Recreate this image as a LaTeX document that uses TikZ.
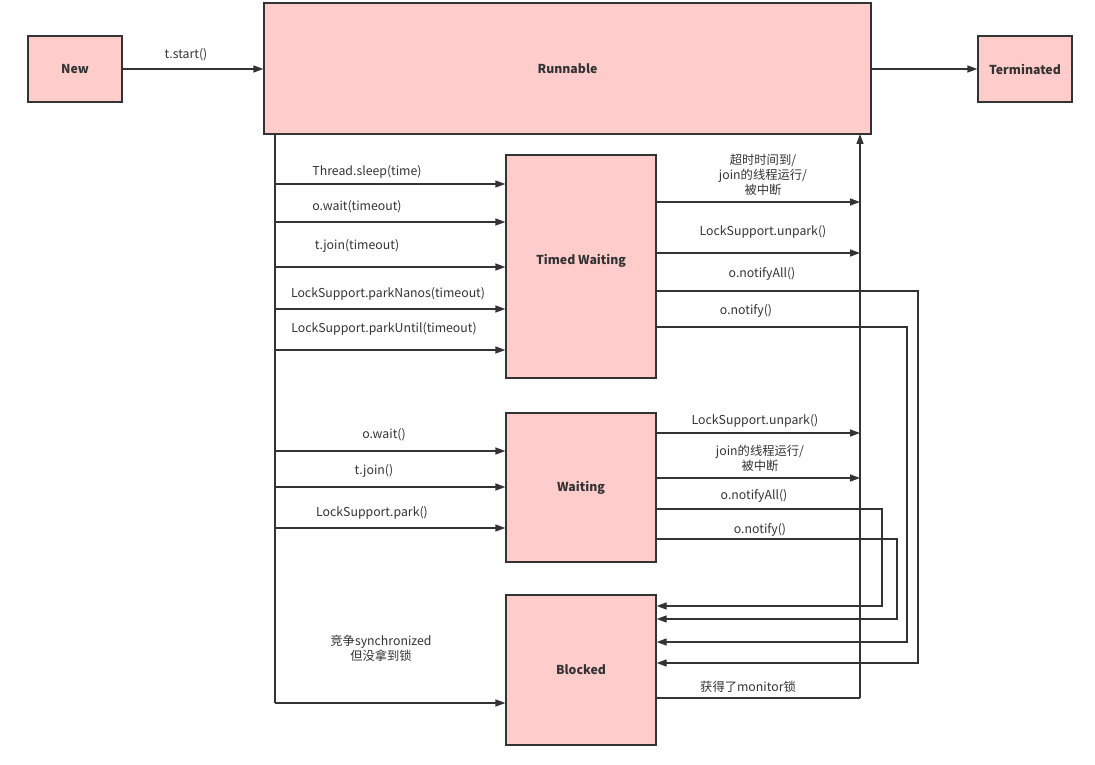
\documentclass[tikz,border=0pt]{standalone}
\usepackage{fontspec}
\setmainfont{Noto Sans CJK SC}
\usetikzlibrary{arrows.meta}
\definecolor{boxfill}{HTML}{FFCCCC}
\definecolor{ink}{HTML}{333333}
\tikzset{
  state/.style={draw=ink, fill=boxfill, line width=1.3pt, inner sep=0pt, font=\fontsize{12.3}{14}\selectfont\bfseries, text=ink},
  arr/.style={draw=ink, line width=1.3pt, -{Triangle[length=10pt,width=7pt]}},
  ln/.style={draw=ink, line width=1.3pt},
  lbl/.style={font=\fontsize{12.3}{15}\selectfont, text=ink, inner sep=0pt, align=center, yshift=-1.5pt},
}
\begin{document}
\begin{tikzpicture}[x=1pt,y=-1pt]
\useasboundingbox (0,0) rectangle (1095,765);
% states
\node[state, minimum width=94pt, minimum height=66pt] (new) at (75,69) {New};
\node[state, minimum width=607pt, minimum height=131pt] (run) at (567.5,68.5) {Runnable};
\node[state, minimum width=94pt, minimum height=66pt] (term) at (1025,69) {Terminated};
\node[state, minimum width=150pt, minimum height=223pt] (tw) at (581,266.5) {};
\node[font=\fontsize{12.3}{14}\selectfont\bfseries, text=ink, inner sep=0pt] (twlabel) at (581,260.5) {Timed Waiting};
\node[state, minimum width=150pt, minimum height=149pt] (w) at (581,487.5) {Waiting};
\node[state, minimum width=150pt, minimum height=150pt] (b) at (581,670) {Blocked};

% top row
\draw[arr] (new.east) -- (run.west |- new.east);
\node[lbl] at (186,53) {t.start()};
\draw[arr] (run.east |- term.west) -- (term.west);

% left trunk
\coordinate (trunk) at (275,134);
\coordinate (trunkend) at (275,703);
\draw[ln] (trunk) -- (trunkend);
\draw[arr] (trunk |- 0,184) -- (tw.west |- 0,184);
\draw[arr] (trunk |- 0,222) -- (tw.west |- 0,222);
\draw[arr] (trunk |- 0,267) -- (tw.west |- 0,267);
\draw[arr] (trunk |- 0,309) -- (tw.west |- 0,309);
\draw[arr] (trunk |- 0,350) -- (tw.west |- 0,350);
\node[lbl] at (367,170) {Thread.sleep(time)};
\node[lbl] at (357,205) {o.wait(timeout)};
\node[lbl] at (357,244) {t.join(timeout)};
\node[lbl] at (388,292) {LockSupport.parkNanos(timeout)};
\node[lbl] at (384,327) {LockSupport.parkUntil(timeout)};

\draw[arr] (trunk |- 0,451) -- (w.west |- 0,451);
\draw[arr] (trunk |- 0,487) -- (w.west |- 0,487);
\draw[arr] (trunk |- 0,528) -- (w.west |- 0,528);
\node[lbl] at (384,433) {o.wait()};
\node[lbl] at (374,469) {t.join()};
\node[lbl] at (372,511) {LockSupport.park()};

\draw[arr] (trunkend) -- (b.west |- trunkend);
\node[lbl] at (381,647) {竞争synchronized\\但没拿到锁};

% right trunk back to Runnable
\coordinate (rt) at (860,698);
\coordinate (rtop) at (860,134);
\draw[ln] (b.east |- rt) -- (rt);
\draw[arr] (rt) -- (rtop);
\node[lbl] at (748,685) {获得了monitor锁};

% timed waiting -> runnable trunk
\draw[arr] (tw.east |- 0,202) -- (rt |- 0,202);
\node[lbl] at (763,173) {超时时间到/\\join的线程运行/\\被中断};
\draw[arr] (tw.east |- 0,253) -- (rt |- 0,253);
\node[lbl] at (763,230) {LockSupport.unpark()};

% timed waiting -> blocked
\draw[arr] (tw.east |- 0,291) -- (918,291) -- (918,663) -- (b.east |- 0,663);
\node[lbl] at (762,272) {o.notifyAll()};
\draw[arr] (tw.east |- 0,327) -- (907,327) -- (907,642) -- (b.east |- 0,642);
\node[lbl] at (746,309) {o.notify()};

% waiting -> runnable trunk
\draw[arr] (w.east |- 0,433) -- (rt |- 0,433);
\node[lbl] at (755,419) {LockSupport.unpark()};
\draw[arr] (w.east |- 0,478) -- (rt |- 0,478);
\node[lbl] at (760,457) {join的线程运行/\\被中断};

% waiting -> blocked
\draw[arr] (w.east |- 0,509) -- (882,509) -- (882,606) -- (b.east |- 0,606);
\node[lbl] at (754,494) {o.notifyAll()};
\draw[arr] (w.east |- 0,539) -- (897,539) -- (897,619) -- (b.east |- 0,619);
\node[lbl] at (760,528) {o.notify()};
\end{tikzpicture}
\end{document}
